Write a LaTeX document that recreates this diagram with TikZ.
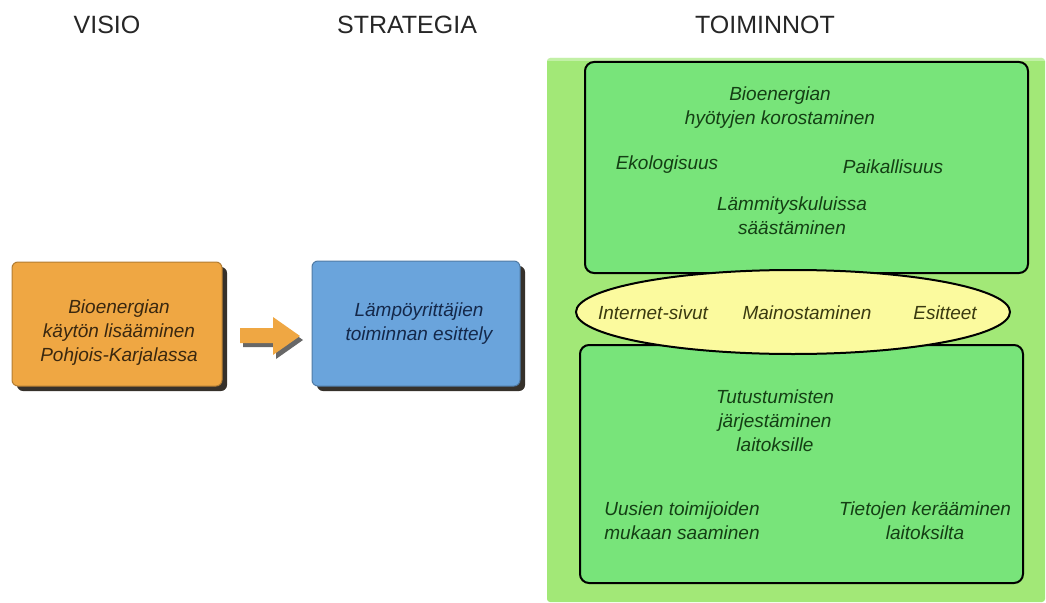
\documentclass[tikz,border=0pt]{standalone}
\usepackage{fontspec}
\setmainfont{Liberation Sans}
\usetikzlibrary{shapes.geometric,shadows}
\definecolor{orfill}{HTML}{EFA743}
\definecolor{blfill}{HTML}{6AA4DC}
\definecolor{outgreen}{HTML}{A2E877}
\definecolor{ingreen}{HTML}{78E47A}
\definecolor{ellfill}{HTML}{FBFA9E}
\definecolor{ortext}{HTML}{3A2810}
\definecolor{bltext}{HTML}{14284A}
\definecolor{grtext}{HTML}{143F14}
\definecolor{eltext}{HTML}{3A3A10}
\tikzset{
  title/.style={inner sep=0pt, font=\fontsize{25}{30}\selectfont, text=black!85},
  body/.style={inner sep=0pt, align=center, font=\fontsize{19}{24}\selectfont\itshape},
  mainbox/.style={draw=#1!75!black, line width=1pt, rounded corners=6pt, inner sep=0pt,
    drop shadow={shadow xshift=5pt, shadow yshift=-5pt, fill=black!90!brown, opacity=.85}},
  greenbox/.style={draw=black, line width=2pt, fill=ingreen, rounded corners=9pt},
}
\begin{document}
\begin{tikzpicture}[x=1pt,y=-1pt]
\useasboundingbox (0,0) rectangle (1046,602);
% titles
\node[title] (t1) at (107,25) {VISIO};
\node[title] (t2) at (407,25) {STRATEGIA};
\node[title] (t3) at (765,25) {TOIMINNOT};
% vision box
\node[mainbox=orfill, fill=orfill, minimum width=210pt, minimum height=124pt] (visio) at (117,324) {};
\node[body, text=ortext] (visiotext) at (119,333) {Bioenergian\\käytön lisääminen\\Pohjois-Karjalassa};
% strategy box
\node[mainbox=blfill, fill=blfill, minimum width=208pt, minimum height=125pt] (strat) at (416,323.5) {};
\node[body, text=bltext] (strattext) at (419,324) {Lämpöyrittäjien\\toiminnan esittely};
% arrow
\fill[black!85, opacity=.7] (243,332) -- (276,332) -- (276,321) -- (303,340) -- (276,359) -- (276,347) -- (243,347) -- cycle;
\fill[orfill] (240,328) -- (273,328) -- (273,317) -- (300,336) -- (273,355) -- (273,343) -- (240,343) -- cycle;
% actions
\fill[outgreen] (547,58) [rounded corners=3pt] rectangle (1045,602);
\fill[white, opacity=.35] (547,58) rectangle (1045,61);
\node[greenbox, minimum width=443pt, minimum height=211pt] (top) at (806.5,167.5) {};
\node[greenbox, minimum width=443pt, minimum height=238pt] (bot) at (801.5,464) {};
\node[ellipse, draw=black, line width=2pt, fill=ellfill, minimum width=434pt, minimum height=84pt, inner sep=0pt] (ell) at (793,312) {};
% top texts
\node[body, text=grtext] (bio) at (780,108) {Bioenergian\\hyötyjen korostaminen};
\node[body, text=grtext] (eko) at (667,165) {Ekologisuus};
\node[body, text=grtext] (paik) at (893,167) {Paikallisuus};
\node[body, text=grtext] (lamm) at (792,216) {Lämmityskuluissa\\säästäminen};
% ellipse texts
\node[body, text=eltext] (inet) at (653,313) {Internet-sivut};
\node[body, text=eltext] (main) at (807,313) {Mainostaminen};
\node[body, text=eltext] (esit) at (945,313) {Esitteet};
% bottom texts
\node[body, text=grtext] (tutu) at (775,421) {Tutustumisten\\järjestäminen\\laitoksille};
\node[body, text=grtext] (uus) at (682,521) {Uusien toimijoiden\\mukaan saaminen};
\node[body, text=grtext] (tiet) at (925,521) {Tietojen kerääminen\\laitoksilta};
\end{tikzpicture}
\end{document}
